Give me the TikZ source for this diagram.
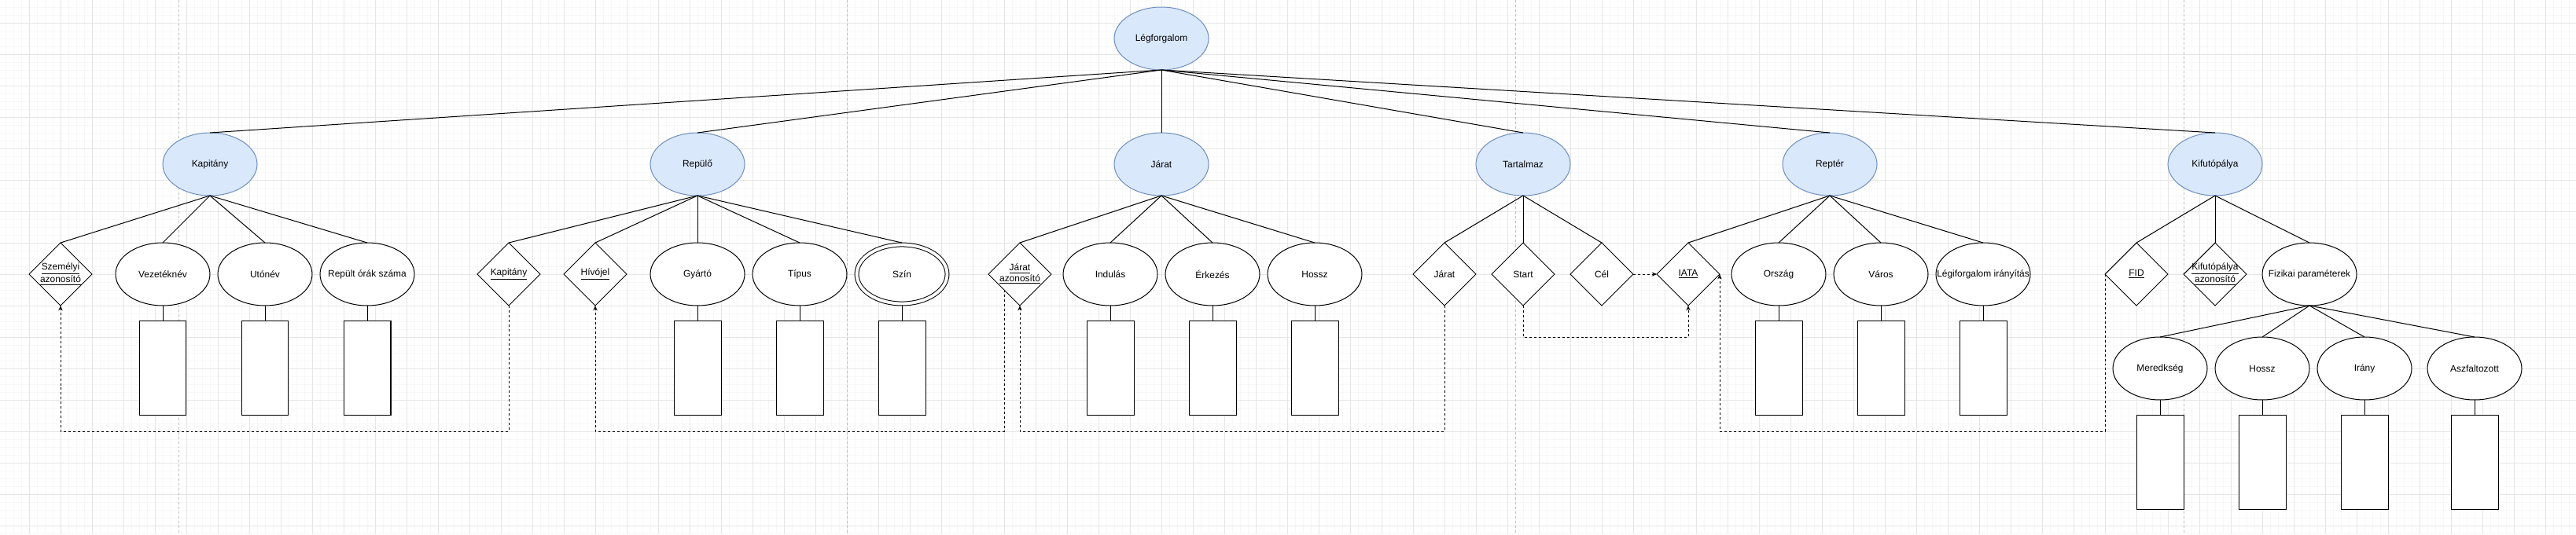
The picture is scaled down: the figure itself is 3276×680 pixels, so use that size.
\documentclass[tikz,border=0pt]{standalone}
\usepackage{fontspec}
\setmainfont{Liberation Sans}
\usetikzlibrary{shapes.geometric,positioning,arrows.meta,calc}

\definecolor{entfill}{HTML}{DAE8FC}
\definecolor{entline}{HTML}{6C8EBF}
\definecolor{minorgrid}{HTML}{F7F7F7}
\definecolor{majorgrid}{HTML}{E6E6E6}
\definecolor{pagebreak}{HTML}{BEBEBE}

\begin{document}
\begin{tikzpicture}[x=0.02cm, y=-0.02cm, line width=0.57pt,
  every node/.style={font=\fontsize{6.8}{7.6}\selectfont, outer sep=0pt, inner sep=-20pt},
  entity/.style={ellipse, draw=entline, fill=entfill, minimum width=2.4cm, minimum height=1.6cm},
  attr/.style={ellipse, draw, fill=white, minimum width=2.4cm, minimum height=1.6cm},
  multi attr/.style={attr, double, double distance=2.2pt, minimum width=2.3cm, minimum height=1.5cm, outer sep=1.4pt},
  keynode/.style={diamond, draw, fill=white, minimum width=1.6cm, minimum height=1.6cm, align=center},
  valbox/.style={rectangle, draw, fill=white, minimum width=1.2cm, minimum height=2.4cm, inner sep=0pt},
  fk/.style={dash pattern=on 1.7pt off 1.7pt, -{Stealth[length=3.6pt,width=3pt]}}]
\useasboundingbox (0,0) rectangle (3276,680);
% background grid and page breaks
\foreach \x in {7,17,...,3276} \draw[minorgrid, line width=0.4pt] (\x,0) -- (\x,680);
\foreach \y in {9,19,...,680} \draw[minorgrid, line width=0.4pt] (0,\y) -- (3276,\y);
\foreach \x in {37,77,...,3276} \draw[majorgrid, line width=0.5pt] (\x,0) -- (\x,680);
\foreach \y in {29,69,...,680} \draw[majorgrid, line width=0.5pt] (0,\y) -- (3276,\y);
\foreach \x in {227,1077,1927,2777} \draw[pagebreak, line width=0.4pt, dash pattern=on 1.7pt off 1.7pt] (\x,0) -- (\x,680);

% entities
\node [entity](legf) at (1477,49) {Légforgalom};
\node [entity](kapitany) at (267,209) {Kapitány};
\node [entity](repulo) at (887,209) {Repülő};
\node [entity](jarat) at (1477,209) {Járat};
\node [entity](tartalmaz) at (1937,209) {Tartalmaz};
\node [entity](repter) at (2327,209) {Reptér};
\node [entity](kifuto) at (2817,209) {Kifutópálya};

% Kapitány
\node [keynode](szemely) at (77,349) {\underline{Személyi}\\\underline{azonosító}};
\node [attr](vezeteknev) at (207,349) {Vezetéknév};
\node [attr](utonev) at (337,349) {Utónév};
\node [attr](oraszam) at (467,349) {Repült órák száma};
% Repülő
\node [keynode](kapkey) at (647,349) {\underline{Kapitány}};
\node [keynode](hivojel) at (757,349) {\underline{Hívójel}};
\node [attr](gyarto) at (887,349) {Gyártó};
\node [attr](tipus) at (1017,349) {Típus};
\node [multi attr](szin) at (1147,349) {Szín};
% Járat
\node [keynode](jaratid) at (1297,349) {\underline{Járat}\\\underline{azonosító}};
\node [attr](indulas) at (1412,349) {Indulás};
\node [attr](erkezes) at (1542,349) {Érkezés};
\node [attr](jhossz) at (1672,349) {Hossz};
% Tartalmaz
\node [keynode](tjarat) at (1837,349) {Járat};
\node [keynode](start) at (1937,349) {Start};
\node [keynode](cel) at (2037,349) {Cél};
% Reptér
\node [keynode](iata) at (2147,349) {\underline{IATA}};
\node [attr](orszag) at (2262,349) {Ország};
\node [attr](varos) at (2392,349) {Város};
\node [attr](iranyitas) at (2522,349) {Légiforgalom irányítás};
% Kifutópálya
\node [keynode](fid) at (2717,349) {\underline{FID}};
\node [keynode](kifutoid) at (2817,349) {\underline{Kifutópálya}\\\underline{azonosító}};
\node [attr](fizikai) at (2937,349) {Fizikai paraméterek};
\node [attr](meredek) at (2747,469) {Meredkség};
\node [attr](khossz) at (2877,469) {Hossz};
\node [attr](irany) at (3007,469) {Irány};
\node [attr](aszfalt) at (3147,469) {Aszfaltozott};

\foreach \n in {vezeteknev,utonev,oraszam,gyarto,tipus,szin,indulas,erkezes,jhossz,orszag,varos,iranyitas,meredek,khossz,irany,aszfalt}{
  \node [valbox, below=0.4cm of \n](\n b) {};
  \draw (\n.south) -- (\n b.north);
}

\path
	(legf.south) edge (kapitany.north)
		edge (repulo.north)
		edge (jarat.north)
		edge (tartalmaz.north)
		edge (repter.north)
		edge (kifuto.north)
	(kapitany.south) edge (szemely.north)
		edge (vezeteknev.north)
		edge (utonev.north)
		edge (oraszam.north)
	(repulo.south) edge (kapkey.north)
		edge (hivojel.north)
		edge (gyarto.north)
		edge (tipus.north)
		edge (szin.north)
	(jarat.south) edge (jaratid.north)
		edge (indulas.north)
		edge (erkezes.north)
		edge (jhossz.north)
	(tartalmaz.south) edge (tjarat.north)
		edge (start.north)
		edge (cel.north)
	(repter.south) edge (iata.north)
		edge (orszag.north)
		edge (varos.north)
		edge (iranyitas.north)
	(kifuto.south) edge (fid.north)
		edge (kifutoid.north)
		edge (fizikai.north)
	(fizikai.south) edge (meredek.north)
		edge (khossz.north)
		edge (irany.north)
		edge (aszfalt.north)
	;

% foreign keys
\coordinate (bus) at (0,549);
\coordinate (startbus) at (0,429);
\draw[fk] (kapkey.south) -- (kapkey.south |- bus) -| (szemely.south);
\draw[fk] (jaratid.south west) -- (jaratid.south west |- bus) -| (hivojel.south);
\draw[fk] (tjarat.south) -- (tjarat.south |- bus) -| (jaratid.south);
\draw[fk] (start.south) -- (start.south |- startbus) -| (iata.south);
\draw[fk] (cel.east) -- (iata.west);
\draw[fk] (fid.west) -- (fid.west |- bus) -| (iata.east);
\end{tikzpicture}
\end{document}
